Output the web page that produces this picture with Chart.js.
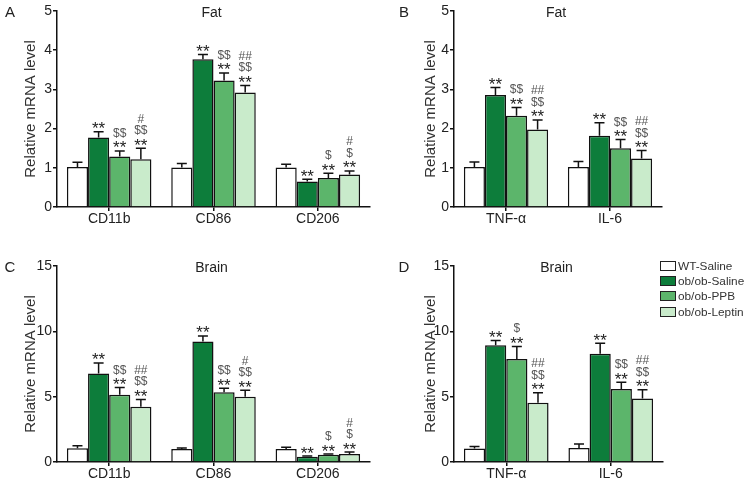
<!DOCTYPE html>
<html>
<head>
<meta charset="utf-8">
<script src="https://cdn.jsdelivr.net/npm/chart.js@4.4.1/dist/chart.umd.min.js"></script>
<style>
  html, body { margin: 0; padding: 0; background: #fff; }
  body { width: 751px; height: 489px; position: relative; overflow: hidden; font-family: "Liberation Sans", Arial, sans-serif; }
  canvas { position: absolute; }
  #legend { position: absolute; left: 660px; top: 258px; font-size: 11.8px; color: #333; }
  .row { display: flex; align-items: center; height: 15.4px; }
  .sw { width: 14px; height: 8px; border: 1px solid #222; margin-right: 2px; }
</style>
</head>
<body>
<canvas id="cA" width="376" height="240" style="left:0;top:0"></canvas>
<canvas id="cB" width="375" height="240" style="left:376px;top:0"></canvas>
<canvas id="cC" width="376" height="244" style="left:0;top:245px"></canvas>
<canvas id="cD" width="375" height="244" style="left:376px;top:245px"></canvas>
<div id="legend"></div>
<script>
// ---------- data ----------
const seriesNames = ['WT-Saline', 'ob/ob-Saline', 'ob/ob-PPB', 'ob/ob-Leptin'];
const seriesColors = ['#ffffff', '#0d7d3b', '#5cb56b', '#c9ebcb'];

const markersCat = ['CD11b', 'CD86', 'CD206'];
const cytokineCat = ['TNF-α', 'IL-6'];

// Panel A: Fat, markers
const fatMarkWT      = [1.02, 1.01, 1.01];
const fatMarkSaline  = [1.77, 3.77, 0.65];
const fatMarkPPB     = [1.29, 3.23, 0.74];
const fatMarkLeptin  = [1.22, 2.92, 0.83];
const fatMarkWTErr     = [0.12, 0.10, 0.08];
const fatMarkSalineErr = [0.15, 0.12, 0.06];
const fatMarkPPBErr    = [0.14, 0.19, 0.12];
const fatMarkLeptinErr = [0.28, 0.18, 0.09];

// Panel B: Fat, cytokines
const fatCytWT      = [1.02, 1.02];
const fatCytSaline  = [2.86, 1.82];
const fatCytPPB     = [2.33, 1.50];
const fatCytLeptin  = [1.98, 1.24];
const fatCytWTErr     = [0.13, 0.14];
const fatCytSalineErr = [0.19, 0.33];
const fatCytPPBErr    = [0.21, 0.22];
const fatCytLeptinErr = [0.24, 0.20];

// Panel C: Brain, markers
const brainMarkWT      = [1.05, 1.00, 1.00];
const brainMarkSaline  = [6.78, 9.22, 0.40];
const brainMarkPPB     = [5.15, 5.33, 0.56];
const brainMarkLeptin  = [4.23, 5.00, 0.62];
const brainMarkWTErr     = [0.19, 0.08, 0.12];
const brainMarkSalineErr = [0.80, 0.43, 0.05];
const brainMarkPPBErr    = [0.55, 0.31, 0.05];
const brainMarkLeptinErr = [0.56, 0.50, 0.14];

// Panel D: Brain, cytokines
const brainCytWT      = [1.04, 1.07];
const brainCytSaline  = [8.93, 8.28];
const brainCytPPB     = [7.88, 5.58];
const brainCytLeptin  = [4.53, 4.86];
const brainCytWTErr     = [0.14, 0.30];
const brainCytSalineErr = [0.36, 0.81];
const brainCytPPBErr    = [0.96, 0.53];
const brainCytLeptinErr = [0.77, 0.67];

// significance labels (bottom to top)
const sigA = [
  [[], [], []],
  [['**'], ['**'], ['**']],
  [['**', '$$'], ['**', '$$'], ['**', '$']],
  [['**', '$$', '#'], ['**', '$$', '##'], ['**', '$', '#']]
];
const sigB = [
  [[], []],
  [['**'], ['**']],
  [['**', '$$'], ['**', '$$']],
  [['**', '$$', '##'], ['**', '$$', '##']]
];
const sigC = [
  [[], [], []],
  [['**'], ['**'], ['**']],
  [['**', '$$'], ['**', '$$'], ['**', '$']],
  [['**', '$$', '##'], ['**', '$$', '#'], ['**', '$', '#']]
];
const sigD = [
  [[], []],
  [['**'], ['**']],
  [['**', '$'], ['**', '$$']],
  [['**', '$$', '##'], ['**', '$$', '##']]
];

const yTicks5 = [0, 1, 2, 3, 4, 5];
const yTicks15 = [0, 5, 10, 15];

// ---------- rendering ----------
const FONT = '"Liberation Sans", Arial, sans-serif';

const overlayPlugin = {
  id: 'overlay',
  afterDatasetsDraw(chart) {
    const ctx = chart.ctx;
    const ys = chart.scales.y;
    const o = chart.options.plugins.overlay;
    chart.data.datasets.forEach((ds, di) => {
      const meta = chart.getDatasetMeta(di);
      meta.data.forEach((bar, i) => {
        const top = ys.getPixelForValue(ds.data[i] + ds.err[i]);
        ctx.save();
        ctx.strokeStyle = '#111';
        ctx.lineWidth = 1.5;
        ctx.beginPath();
        ctx.moveTo(bar.x, bar.y);
        ctx.lineTo(bar.x, top);
        ctx.moveTo(bar.x - 5, top);
        ctx.lineTo(bar.x + 5, top);
        ctx.stroke();
        const labels = ds.sig[i] || [];
        ctx.textAlign = 'center';
        ctx.textBaseline = 'alphabetic';
        labels.forEach((s, li) => {
          const base = top - 2 - li * 11.5;
          if (s.indexOf('*') >= 0) {
            ctx.font = '17px ' + FONT;
            ctx.fillStyle = '#222';
            ctx.fillText(s, bar.x, base + 4.5);
          } else {
            ctx.font = '12px ' + FONT;
            ctx.fillStyle = '#555';
            ctx.fillText(s, bar.x, base - 0.5);
          }
        });
        ctx.restore();
      });
    });
    // panel title and letter
    const ca = chart.chartArea;
    ctx.save();
    ctx.fillStyle = '#222';
    ctx.font = '14px ' + FONT;
    ctx.textBaseline = 'middle';
    ctx.textAlign = 'center';
    ctx.fillText(o.title, (ca.left + ca.right) / 2 - 2, ca.top + 2);
    ctx.font = '15px ' + FONT;
    ctx.fillText(o.letter, ca.left + o.letterDx, ca.top + 2);
    ctx.restore();
  }
};

function makeChart(id, cats, vals, errs, sigs, ticks, opts) {
  const datasets = seriesNames.map((n, k) => ({
    label: n,
    data: vals[k],
    err: errs[k],
    sig: sigs[k],
    backgroundColor: seriesColors[k],
    borderColor: '#111',
    borderWidth: 1.5,
    categoryPercentage: 0.81,
    barPercentage: 1.0
  }));
  return new Chart(document.getElementById(id), {
    type: 'bar',
    data: { labels: cats, datasets },
    plugins: [overlayPlugin],
    options: {
      responsive: false,
      animation: false,
      layout: { padding: opts.padding },
      plugins: {
        legend: { display: false },
        tooltip: { enabled: false },
        overlay: { title: opts.title, letter: opts.letter, letterDx: opts.letterDx }
      },
      scales: {
        x: {
          grid: { display: true, offset: false, drawOnChartArea: false, drawTicks: true, tickLength: 4, color: '#111', lineWidth: 1.5 },
          border: { display: true, color: '#111', width: 1.5 },
          ticks: { color: '#222', font: { family: FONT, size: 14 }, padding: 0, maxRotation: 0 },
          afterFit(s) { s.height = opts.xH; }
        },
        y: {
          min: 0,
          max: ticks[ticks.length - 1],
          afterBuildTicks(s) { s.ticks = ticks.map(v => ({ value: v })); },
          grid: { display: true, drawOnChartArea: false, drawTicks: true, tickLength: 4, color: '#111', lineWidth: 1.5 },
          border: { display: true, color: '#111', width: 1.5 },
          ticks: { color: '#222', font: { family: FONT, size: 14 }, padding: 1 },
          title: {
            display: true, text: 'Relative mRNA level', color: '#333',
            font: { family: FONT, size: 15 }, padding: { top: opts.titlePad, bottom: 0 }
          },
          afterFit(s) { s.width = opts.yW; }
        }
      }
    }
  });
}

makeChart('cA', markersCat,
  [fatMarkWT, fatMarkSaline, fatMarkPPB, fatMarkLeptin],
  [fatMarkWTErr, fatMarkSalineErr, fatMarkPPBErr, fatMarkLeptinErr],
  sigA, yTicks5,
  { padding: { left: 0, top: 11, right: 6, bottom: 7 }, xH: 26, yW: 57, titlePad: 22, title: 'Fat', letter: 'A', letterDx: -47 });

makeChart('cB', cytokineCat,
  [fatCytWT, fatCytSaline, fatCytPPB, fatCytLeptin],
  [fatCytWTErr, fatCytSalineErr, fatCytPPBErr, fatCytLeptinErr],
  sigB, yTicks5,
  { padding: { left: 0, top: 11, right: 89, bottom: 7 }, xH: 26, yW: 78, titlePad: 46, title: 'Fat', letter: 'B', letterDx: -50 });

makeChart('cC', markersCat,
  [brainMarkWT, brainMarkSaline, brainMarkPPB, brainMarkLeptin],
  [brainMarkWTErr, brainMarkSalineErr, brainMarkPPBErr, brainMarkLeptinErr],
  sigC, yTicks15,
  { padding: { left: 0, top: 21, right: 6, bottom: 1 }, xH: 26, yW: 57, titlePad: 22, title: 'Brain', letter: 'C', letterDx: -47 });

makeChart('cD', cytokineCat,
  [brainCytWT, brainCytSaline, brainCytPPB, brainCytLeptin],
  [brainCytWTErr, brainCytSalineErr, brainCytPPBErr, brainCytLeptinErr],
  sigD, yTicks15,
  { padding: { left: 0, top: 21, right: 88, bottom: 1 }, xH: 26, yW: 78, titlePad: 46, title: 'Brain', letter: 'D', letterDx: -50 });

// HTML legend
const lg = document.getElementById('legend');
seriesNames.forEach((n, k) => {
  const r = document.createElement('div');
  r.className = 'row';
  const sw = document.createElement('span');
  sw.className = 'sw';
  sw.style.background = seriesColors[k];
  const t = document.createElement('span');
  t.textContent = n;
  r.appendChild(sw); r.appendChild(t);
  lg.appendChild(r);
});
</script>
</body>
</html>
